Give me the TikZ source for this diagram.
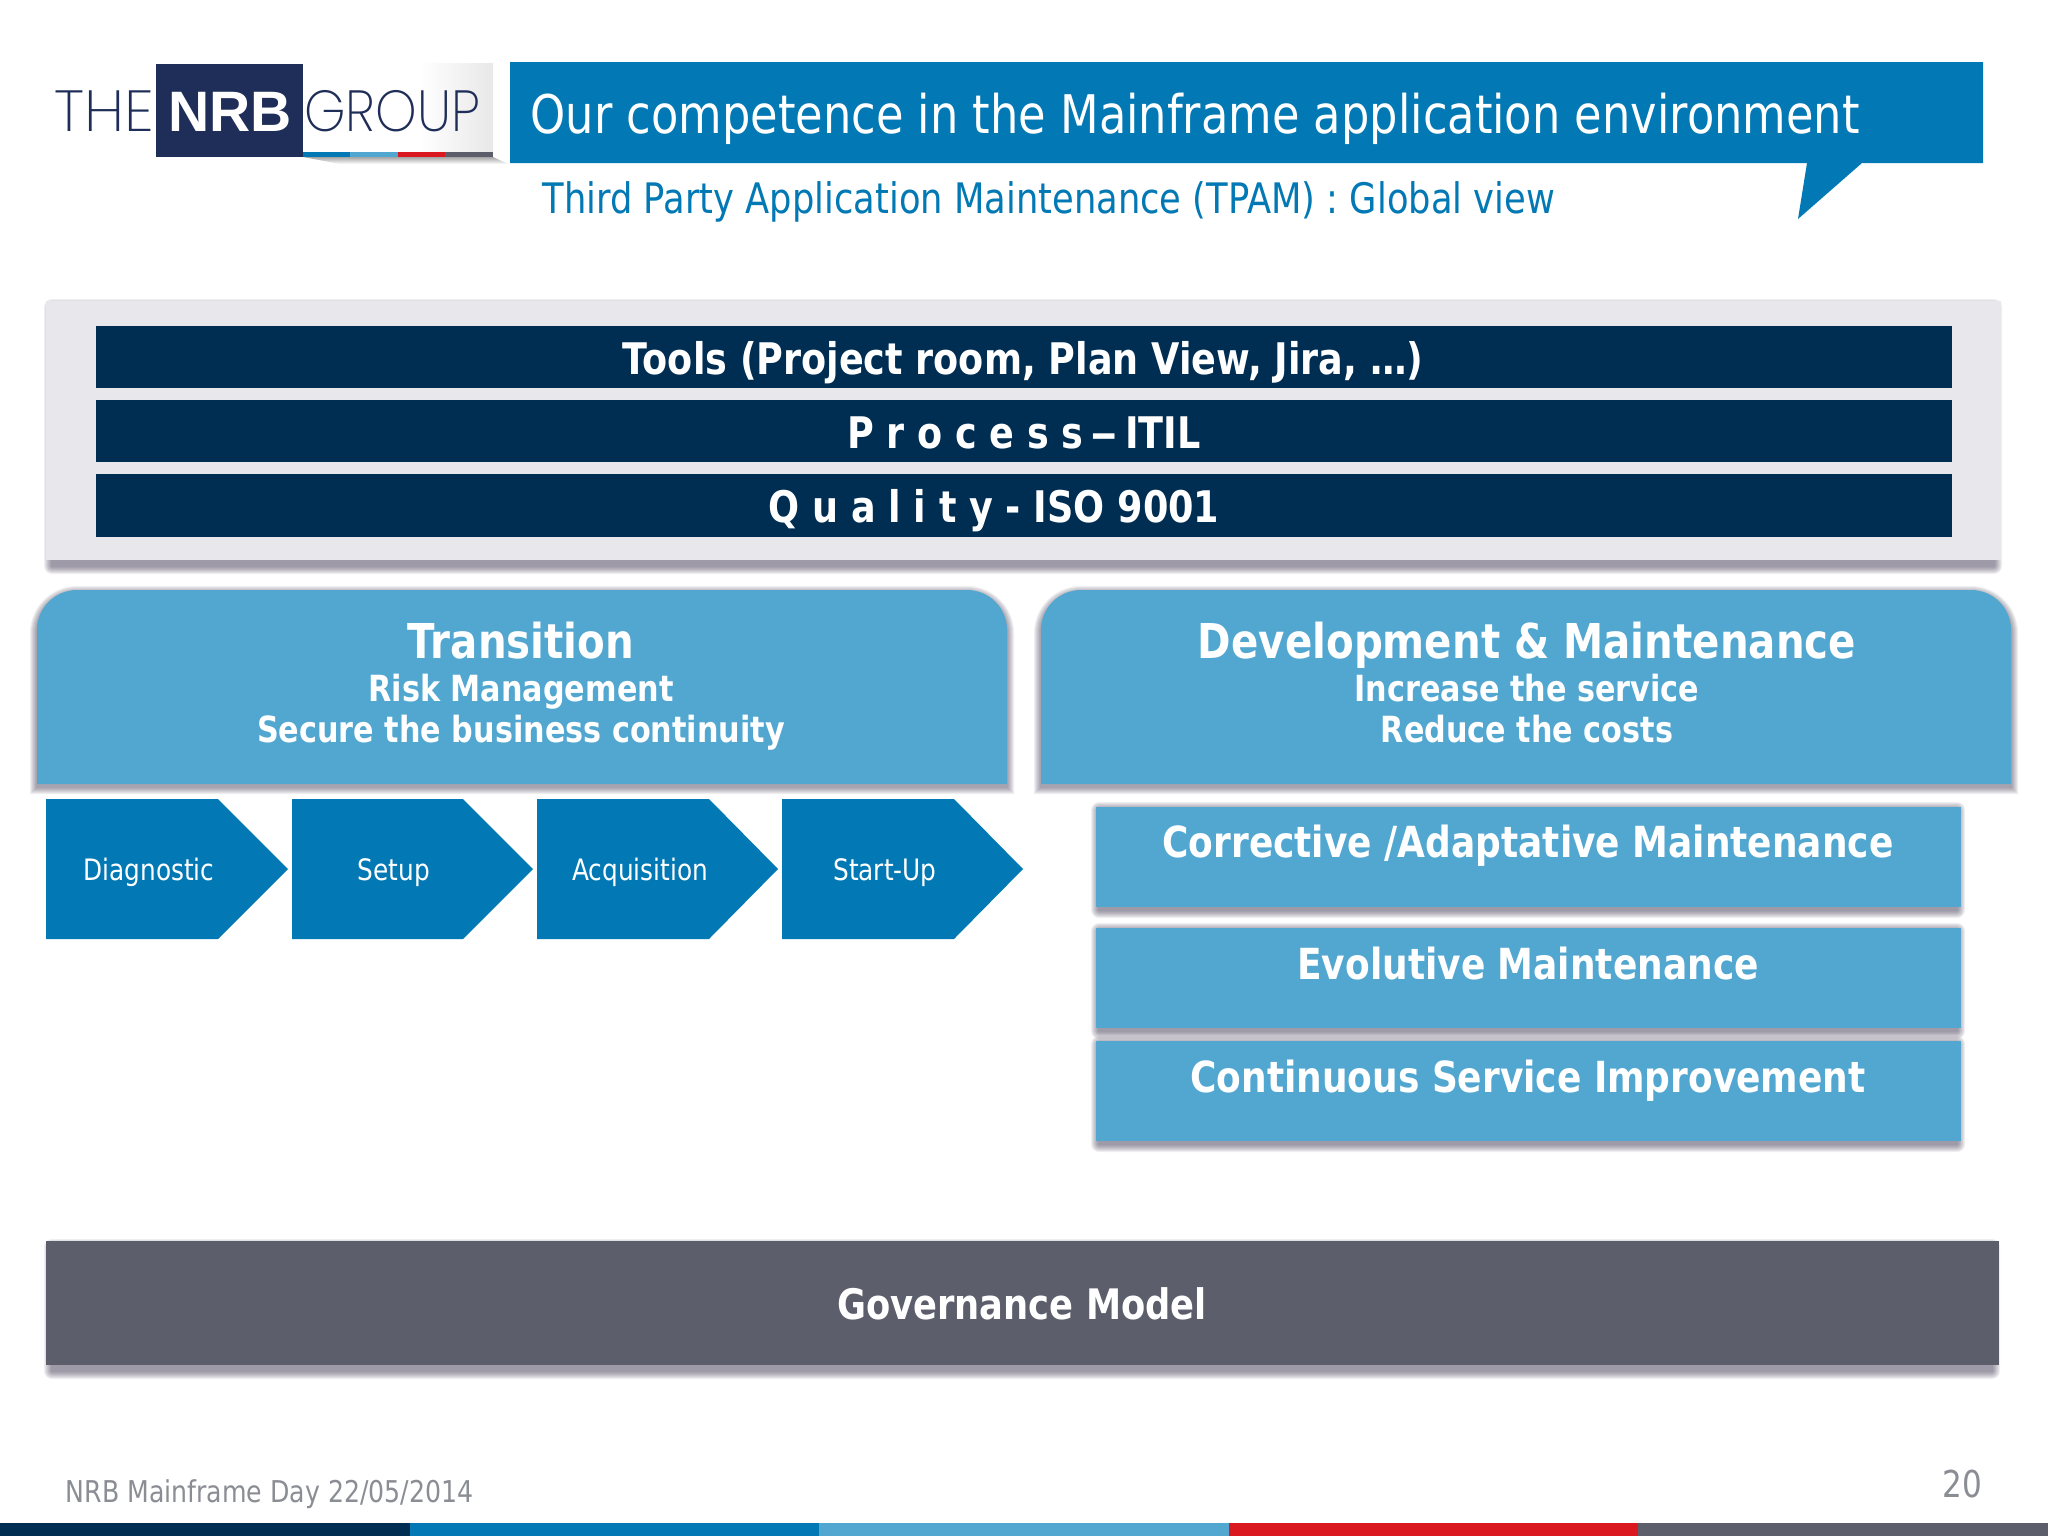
\documentclass[tikz,border=0pt]{standalone}
\usepackage{fontspec}
\setmainfont{DejaVu Sans}[FakeStretch=0.84]
\newfontfamily\logothin{Poppins ExtraLight}[FakeStretch=0.91]
\newfontfamily\logothinwide{Poppins ExtraLight}[FakeStretch=1.04]
\newfontfamily\logobold{Liberation Sans}
\usetikzlibrary{calc}
\definecolor{nrbnavy}{HTML}{002D52}
\definecolor{nrbblue}{HTML}{0279B4}
\definecolor{nrblight}{HTML}{52A7D1}
\definecolor{nrbgrey}{HTML}{5C5F6B}
\definecolor{nrbred}{HTML}{D9181F}
\definecolor{panelgrey}{HTML}{E8E8EC}
\definecolor{logonavy}{HTML}{1F2E58}
\definecolor{footgrey}{HTML}{8A8D93}
\definecolor{shadowtone}{HTML}{2A2440}
\newcommand\pxf[1]{\fontsize{\fpeval{#1*0.2845}}{\fpeval{#1*0.2845*1.2}}\selectfont}
% soft shadow of a rectangle: x1 y1 x2 y2 dy hinset
\newcommand\softrect[6]{\foreach \i in {1,...,8}{%
  \fill[shadowtone,opacity=.07,rounded corners=\i*0.01cm]
   ({#1-\i+#6},{#2-\i+#5}) rectangle ({#3+\i-#6},{#4+\i+#5});}}
% soft shadow of a box with rounded top corners: x1 y1 x2 y2
\newcommand\softtop[4]{\foreach \i in {1,...,7}{%
  \fill[shadowtone,opacity=.07]
   ({#1-\i},{#4+\i+3}) -- ({#1-\i},{#2+43}) arc[start angle=180,end angle=270,radius={40+\i}]
   -- ({#3-40},{#2-\i+3}) arc[start angle=270,end angle=360,radius={40+\i}]
   -- ({#3+\i},{#4+\i+3}) -- cycle;}}
\tikzset{
 x=0.01cm,y=-0.01cm,
 plainbox/.style={rectangle,inner sep=0pt,outer sep=0pt,anchor=north west},
 barbox/.style={plainbox,fill=nrbnavy},
 lightbox/.style={plainbox,fill=nrblight},
 chevronbox/.style={fill=nrbblue,draw=none},
 bartext/.style={anchor=base,text=white,font=\bfseries\pxf{43.5},inner sep=0pt},
 headtext/.style={anchor=base,text=white,font=\bfseries\pxf{48},inner sep=0pt},
 subtext/.style={anchor=base,text=white,font=\bfseries\pxf{36},inner sep=0pt},
 chevtext/.style={anchor=base,text=white,font=\pxf{29.5},inner sep=0pt},
 itemtext/.style={anchor=base,text=white,font=\bfseries\pxf{42.8},inner sep=0pt},
}
\begin{document}
\begin{tikzpicture}
\useasboundingbox (0,0) rectangle (2048,1536);
\fill[white] (0,0) rectangle (2048,1536);
% logo
\shade[left color=white,right color=black!9] (420,63) rectangle (493,152);
\shade[top color=black!35,bottom color=white] (303,157) -- (493,157) -- (508,164) -- (340,164) -- cycle;
\node[plainbox,fill=logonavy,minimum width=1.47cm,minimum height=.93cm] (logobox) at (156,64) {};
\fill[nrbblue] (303,152) rectangle (350,157);
\fill[nrblight] (350,152) rectangle (398,157);
\fill[nrbred] (398,152) rectangle (445,157);
\fill[nrbgrey] (445,152) rectangle (493,157);
\node[anchor=base,text=white,font=\logobold\bfseries\pxf{57},inner sep=0pt] (nrb) at (230,131) {NRB};
\node[anchor=base,text=logonavy,font=\logothinwide\pxf{58},inner sep=0pt] (the) at (104,131) {THE};
\node[anchor=base,text=logonavy,font=\logothin\pxf{58},inner sep=0pt] (grp) at (392,131) {GROUP};
% title
\fill[nrbblue] (510,62) -- (1983,62) -- (1983,163) -- (1862,163) -- (1798,219) -- (1807,163) -- (510,163) -- cycle;
\node[anchor=base west,text=white,font=\pxf{53.2},inner sep=0pt] (title) at (530,133) {Our competence in the Mainframe application environment};
\node[anchor=base west,text=nrbblue,font=\pxf{42},inner sep=0pt] (subtitle) at (542,213) {Third Party Application Maintenance (TPAM) : Global view};
% panel
\softrect{46}{301}{2000}{560}{6}{6}
\node[plainbox,fill=panelgrey,minimum width=19.54cm,minimum height=2.59cm] (panel) at (46,301) {};
\node[barbox,minimum width=18.55cm,minimum height=.62cm] (toolsbar) at (96,326) {};
\node[barbox,minimum width=18.55cm,minimum height=.62cm] (procbar) at (96,400) {};
\node[barbox,minimum width=18.55cm,minimum height=.63cm] (qualbar) at (96,474) {};
\node[bartext] (toolst) at (1023,374) {Tools (Project room, Plan View, Jira, …)};
\node[bartext] (proct) at (1024,448) {P r o c e s s\,\scalebox{1.5}[1]{–}\,ITIL};
\node[bartext] (qualt) at (994,522) {Q u a l i t y - ISO 9001};
% big boxes
\softtop{37}{590}{1007}{784}
\fill[nrblight] (37,784) -- (37,630) arc[start angle=180,end angle=270,radius=40] -- (967,590) arc[start angle=270,end angle=360,radius=40] -- (1007,784) -- cycle;
\softtop{1041}{590}{2011}{784}
\fill[nrblight] (1041,784) -- (1041,630) arc[start angle=180,end angle=270,radius=40] -- (1971,590) arc[start angle=270,end angle=360,radius=40] -- (2011,784) -- cycle;
\node[headtext] (transt) at (521,658) {Transition};
\node[subtext] (risk) at (521,701) {Risk Management};
\node[subtext] (secure) at (521,742) {Secure the business continuity};
\node[headtext] (devt) at (1527,658) {Development \& Maintenance};
\node[subtext] (incr) at (1527,701) {Increase the service};
\node[subtext] (redu) at (1527,742) {Reduce the costs};
% chevrons
\fill[chevronbox] (46,799) -- (218,799) -- (288,869) -- (218,939) -- (46,939) -- cycle;
\fill[chevronbox] (292,799) -- (463,799) -- (533,869) -- (463,939) -- (292,939) -- cycle;
\fill[chevronbox] (537,799) -- (709,799) -- (778,869) -- (709,939) -- (537,939) -- cycle;
\fill[chevronbox] (782,799) -- (954,799) -- (1023,869) -- (954,939) -- (782,939) -- cycle;
\node[chevtext] (diag) at (149,880) {Diagnostic};
\node[chevtext] (setup) at (394,880) {Setup};
\node[chevtext] (acq) at (640,880) {Acquisition};
\node[chevtext] (start) at (885,880) {Start-Up};
% maintenance
\softrect{1096}{807}{1960}{907}{3}{3}
\node[lightbox,minimum width=8.64cm,minimum height=1.00cm] (corrbox) at (1096,807) {};
\softrect{1096}{928}{1960}{1028}{3}{3}
\node[lightbox,minimum width=8.64cm,minimum height=1.00cm] (evolbox) at (1096,928) {};
\softrect{1096}{1041}{1960}{1141}{3}{3}
\node[lightbox,minimum width=8.64cm,minimum height=1.00cm] (contbox) at (1096,1041) {};
\node[itemtext] (corrt) at (1528,857) {Corrective /Adaptative Maintenance};
\node[itemtext] (evolt) at (1528,979) {Evolutive Maintenance};
\node[itemtext] (contt) at (1528,1092) {Continuous Service Improvement};
% governance
\softrect{46}{1241}{1998}{1365}{6}{6}
\node[plainbox,fill=nrbgrey,minimum width=19.52cm,minimum height=1.24cm] (gov) at (46,1241) {};
\node[itemtext,font=\bfseries\pxf{42}] (govt) at (1022,1319) {Governance Model};
% footer
\node[anchor=base west,text=footgrey,font=\pxf{30},inner sep=0pt] (foot) at (65,1502) {NRB Mainframe Day 22/05/2014};
\node[anchor=base east,text=footgrey,font=\pxf{37},inner sep=0pt] (num) at (1983,1497) {20};
\fill[nrbnavy] (0,1523) rectangle (410,1536);
\fill[nrbblue] (410,1523) rectangle (819,1536);
\fill[nrblight] (819,1523) rectangle (1229,1536);
\fill[nrbred] (1229,1523) rectangle (1638,1536);
\fill[nrbgrey] (1638,1523) rectangle (2048,1536);
\end{tikzpicture}
\end{document}
